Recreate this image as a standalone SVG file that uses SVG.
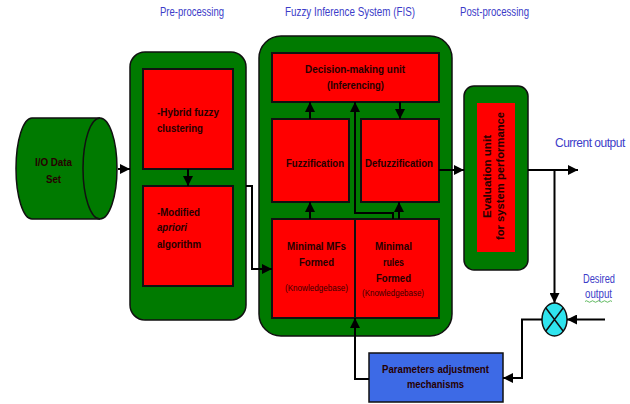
<svg xmlns="http://www.w3.org/2000/svg" width="630" height="404" viewBox="0 0 630 404">
  <style>
    .panel { fill: #007a00; stroke: #111; stroke-width: 1.5; }
    .unit { fill: #ff0000; stroke: #111; stroke-width: 2; }
    .title { font-family: "Liberation Sans", Arial, sans-serif; font-size: 13px; fill: #3c3cc8; }
    .note { font-family: "Liberation Sans", Arial, sans-serif; font-size: 12px; fill: #3c3cc8; }
    .lbl { font-family: "Liberation Sans", Arial, sans-serif; font-size: 11.5px; font-weight: bold; fill: #260000; }
    .lbl-sm { font-family: "Liberation Sans", Arial, sans-serif; font-size: 9.5px; fill: #3a0000; }
    .wire { fill: none; stroke: #000; stroke-width: 2; }
  </style>
  <defs>
    <marker id="arr" markerUnits="userSpaceOnUse" markerWidth="10" markerHeight="10" refX="10" refY="5" orient="auto">
      <path d="M0,0 L10,5 L0,10 Z" fill="#000"/>
    </marker>
  </defs>

  <rect width="630" height="404" fill="#fff"/>

  <!-- stage titles -->
  <g id="titles">
    <text class="title" x="160" y="16" textLength="64" lengthAdjust="spacingAndGlyphs">Pre-processing</text>
    <text class="title" x="285" y="16" textLength="130" lengthAdjust="spacingAndGlyphs">Fuzzy Inference  System (FIS)</text>
    <text class="title" x="460" y="16" textLength="69" lengthAdjust="spacingAndGlyphs">Post-processing</text>
  </g>

  <!-- input data store -->
  <g id="io-data">
    <path class="panel" d="M32,118 H100 A17,50.5 0 0 1 100,219 H32 A16,50.5 0 0 1 32,118 Z"/>
    <path d="M100,118 A17,50.5 0 0 0 100,219" fill="none" stroke="#111" stroke-width="1.5"/>
    <text class="lbl" x="35" y="166" textLength="37" lengthAdjust="spacingAndGlyphs">I/O Data</text>
    <text class="lbl" x="46" y="183" textLength="15" lengthAdjust="spacingAndGlyphs">Set</text>
  </g>

  <!-- pre-processing stage -->
  <g id="preprocessing">
    <rect class="panel" x="130" y="52" width="116" height="268" rx="15"/>
  </g>
  <g id="hybrid-clustering">
    <rect class="unit" x="143" y="69" width="90" height="100"/>
    <text class="lbl" x="157" y="116" textLength="62" lengthAdjust="spacingAndGlyphs">-Hybrid fuzzy</text>
    <text class="lbl" x="157" y="132" textLength="46" lengthAdjust="spacingAndGlyphs">clustering</text>
  </g>
  <g id="modified-apriori">
    <rect class="unit" x="143" y="186" width="90" height="100"/>
    <text class="lbl" x="157" y="216" textLength="43" lengthAdjust="spacingAndGlyphs">-Modified</text>
    <text class="lbl" x="157" y="231" font-style="italic" font-weight="normal" textLength="30" lengthAdjust="spacingAndGlyphs">apriori</text>
    <text class="lbl" x="157" y="248" textLength="44" lengthAdjust="spacingAndGlyphs">algorithm</text>
  </g>

  <!-- fuzzy inference system -->
  <g id="fis">
    <rect class="panel" x="259" y="36" width="193" height="300" rx="22"/>
  </g>
  <g id="decision-unit">
    <rect class="unit" x="272" y="53" width="167" height="49"/>
    <text class="lbl" x="305" y="73" textLength="100" lengthAdjust="spacingAndGlyphs">Decision-making unit</text>
    <text class="lbl" x="327" y="89" textLength="57" lengthAdjust="spacingAndGlyphs">(Inferencing)</text>
  </g>
  <g id="fuzzification">
    <rect class="unit" x="272" y="119" width="77" height="83"/>
    <text class="lbl" x="286" y="167" textLength="58" lengthAdjust="spacingAndGlyphs">Fuzzification</text>
  </g>
  <g id="defuzzification">
    <rect class="unit" x="361" y="119" width="78" height="83"/>
    <text class="lbl" x="365" y="167" textLength="68" lengthAdjust="spacingAndGlyphs">Defuzzification</text>
  </g>
  <g id="minimal-mfs">
    <rect class="unit" x="272" y="219" width="83" height="99"/>
    <text class="lbl" x="287" y="250" textLength="59" lengthAdjust="spacingAndGlyphs">Minimal MFs</text>
    <text class="lbl" x="299" y="266" textLength="35" lengthAdjust="spacingAndGlyphs">Formed</text>
    <text class="lbl-sm" x="285" y="291" textLength="63" lengthAdjust="spacingAndGlyphs">(Knowledgebase)</text>
  </g>
  <g id="minimal-rules">
    <rect class="unit" x="355" y="219" width="84" height="99"/>
    <text class="lbl" x="375" y="250" textLength="37" lengthAdjust="spacingAndGlyphs">Minimal</text>
    <text class="lbl" x="383" y="266" textLength="21" lengthAdjust="spacingAndGlyphs">rules</text>
    <text class="lbl" x="376" y="282" textLength="35" lengthAdjust="spacingAndGlyphs">Formed</text>
    <text class="lbl-sm" x="362" y="296" textLength="62" lengthAdjust="spacingAndGlyphs">(Knowledgebase)</text>
  </g>

  <!-- post-processing stage -->
  <g id="postprocessing">
    <rect class="panel" x="464" y="86" width="64" height="184" rx="10"/>
  </g>
  <g id="evaluation-unit">
    <rect x="477" y="103" width="38" height="149" fill="#ff0000"/>
    <text class="lbl" transform="translate(491,218) rotate(-90)" x="0" y="0" textLength="83" lengthAdjust="spacingAndGlyphs">Evaluation unit</text>
    <text class="lbl" transform="translate(504,240) rotate(-90)" x="0" y="0" textLength="128" lengthAdjust="spacingAndGlyphs">for system performance</text>
  </g>

  <!-- comparator -->
  <g id="comparator">
    <ellipse cx="554.5" cy="319.5" rx="12.5" ry="16.5" fill="#2fe4ee" stroke="#111" stroke-width="1.5"/>
    <path d="M545.7,307.8 L563.3,331.2 M563.3,307.8 L545.7,331.2" stroke="#111" stroke-width="1.5"/>
  </g>

  <!-- parameter tuning block -->
  <g id="parameters-adjustment">
    <rect x="369" y="353" width="134" height="49" fill="#3d6ae6" stroke="#111" stroke-width="1.5"/>
    <text class="lbl" x="382" y="373" textLength="107" lengthAdjust="spacingAndGlyphs">Parameters adjustment</text>
    <text class="lbl" x="407" y="388" textLength="57" lengthAdjust="spacingAndGlyphs">mechanisms</text>
  </g>

  <!-- signal labels -->
  <g id="signal-labels">
    <text class="note" font-size="11" letter-spacing="-0.5" x="555" y="147">Current output</text>
    <text class="note" x="583" y="283" textLength="32" lengthAdjust="spacingAndGlyphs">Desired</text>
    <text class="note" x="585" y="298" textLength="27" lengthAdjust="spacingAndGlyphs">output</text>
    <path d="M585,301.5 q1.5,-1.5 3,0 t3,0 t3,0 t3,0 t3,0 t3,0 t3,0 t3,0 t3,0" fill="none" stroke="#3aa83a" stroke-width="0.8"/>
  </g>

  <!-- connectors -->
  <g id="connectors">
    <path class="wire" d="M118,169 H130" marker-end="url(#arr)"/>
    <path class="wire" d="M188,169 V186" marker-end="url(#arr)"/>
    <path class="wire" d="M246,186 H252 V269 H272" marker-end="url(#arr)"/>
    <path class="wire" d="M310,219 V202" marker-end="url(#arr)"/>
    <path class="wire" d="M310,119 V102" marker-end="url(#arr)"/>
    <path class="wire" d="M400,102 V119" marker-end="url(#arr)"/>
    <path class="wire" d="M393,219 V213 H355 V102" marker-end="url(#arr)"/>
    <path class="wire" d="M399,219 V202" marker-end="url(#arr)"/>
    <path class="wire" d="M439,170 H464" marker-end="url(#arr)"/>
    <path class="wire" d="M528,170 H578" marker-end="url(#arr)"/>
    <path class="wire" d="M554.5,170 V303" marker-end="url(#arr)"/>
    <path class="wire" d="M605,319.5 H567" marker-end="url(#arr)"/>
    <path class="wire" d="M542,319.5 H522 V378 H503" marker-end="url(#arr)"/>
    <path class="wire" d="M369,379 H355 V318" marker-end="url(#arr)"/>
  </g>
</svg>
